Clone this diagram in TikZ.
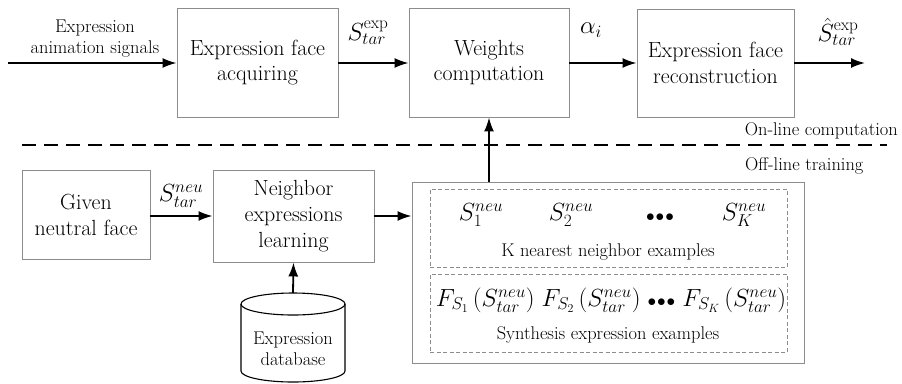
\documentclass[tikz,border=0pt]{standalone}
\usetikzlibrary{arrows.meta}
\newcommand\Sv[2]{S^{\mathrm{#1}}_{#2}}
\newcommand\Sn[1]{S^{neu}_{#1}}
\newcommand\tdots{\mbox{\fontsize{19}{20}\selectfont$\bullet\!\bullet\!\bullet$}}
\begin{document}
\begin{tikzpicture}[x=1bp,y=-1bp,
  box/.style={draw=black!45,line width=0.9bp,align=center,inner sep=0pt,
    font=\fontsize{22}{26}\selectfont},
  dbox/.style={draw=black!45,line width=0.8bp,dashed,dash pattern=on 4bp off 2.5bp,inner sep=0pt},
  arr/.style={line width=1.8bp,-{Latex[length=14bp,width=10bp]}},
  small/.style={font=\fontsize{18.5}{21}\selectfont,align=center,inner sep=0pt},
  mlab/.style={font=\fontsize{24}{28}\selectfont,inner sep=0pt}]
\useasboundingbox (0,0) rectangle (902,383);
% top row
\node[box,minimum width=161bp,minimum height=109bp] (acq) at (257.5,62.5) {Expression face\\acquiring};
\node[box,minimum width=160bp,minimum height=109bp] (wc) at (489,62.5) {Weights\\computation};
\node[box,minimum width=157bp,minimum height=108bp] (rec) at (715.5,63) {Expression face\\reconstruction};
\coordinate (in) at (8,63);
\coordinate (out) at (865,63);
\node[small] (sig) at (95,39) {Expression\\animation signals};
\draw[arr] (in) -- (acq.west |- in);
\draw[arr] (acq.east |- in) -- (wc.west |- in);
\draw[arr] (wc.east |- in) -- (rec.west |- in);
\draw[arr] (rec.east |- in) -- (out);
\node[mlab] (l1) at (368,33) {$\Sv{exp}{tar}$};
\node[mlab] (l2) at (591,30) {$\alpha_{i}$};
\node[mlab] (l3) at (838,32) {$\hat{S}^{\mathrm{exp}}_{tar}$};
% separator
\node[small,anchor=east] (on) at (898,131) {On-line computation};
\node[small,anchor=west] (off) at (745,166) {Off-line training};
\coordinate (dl) at (22,145);
\coordinate (dr) at (887,145);
\draw[line width=2.2bp,dash pattern=on 14bp off 8bp] (dl) -- (dr);
% lower row
\node[box,minimum width=128bp,minimum height=89bp] (given) at (86,214.5) {Given\\neutral face};
\node[box,minimum width=161bp,minimum height=92bp] (nb) at (293.5,216) {Neighbor\\expressions\\learning};
\node[draw=black!45,line width=0.9bp,minimum width=392bp,minimum height=181bp,inner sep=0pt] (big) at (608,272.5) {};
\node[dbox,minimum width=357bp,minimum height=78bp] (d1) at (608.5,228) {};
\node[dbox,minimum width=357bp,minimum height=78bp] (d2) at (608.5,313) {};
\node[mlab] (s1) at (481,215) {$S^{neu}_{1}$};
\node[mlab] (s2) at (571,215) {$S^{neu}_{2}$};
\node[mlab] (sd) at (660,218) {\tdots};
\node[mlab] (sk) at (744,215) {$S^{neu}_{K}$};
\node[small] (knn) at (608,252) {K nearest neighbor examples};
\node[font=\fontsize{23.2}{27}\selectfont,inner sep=0pt] (fr) at (611,300) {$F_{S_{1}}\,(\Sn{tar})\;F_{S_{2}}\,(\Sn{tar})$ \tdots\ $F_{S_{K}}\,(\Sn{tar})$};
\node[small] (syn) at (608,335) {Synthesis expression examples};
\draw[arr] (given.east |- nb) -- (nb.west);
\node[mlab] (l4) at (181,196) {$\Sn{tar}$};
\draw[arr] (nb.east) -- (big.west |- nb);
\draw[arr] (big.north -| wc) -- (wc.south);
% cylinder
\coordinate (ct) at (293,304);
\draw[line width=1.1bp,fill=white] (241,304) -- (241,371) arc[start angle=180,end angle=360,x radius=52,y radius=-11] -- (345,304);
\draw[line width=1.1bp] (ct) ellipse[x radius=52,y radius=11];
\node[small] (db) at (293,349) {Expression\\database};
\coordinate (cyltop) at (293,293);
\draw[arr] (cyltop) -- (nb.south);
\end{tikzpicture}
\end{document}
